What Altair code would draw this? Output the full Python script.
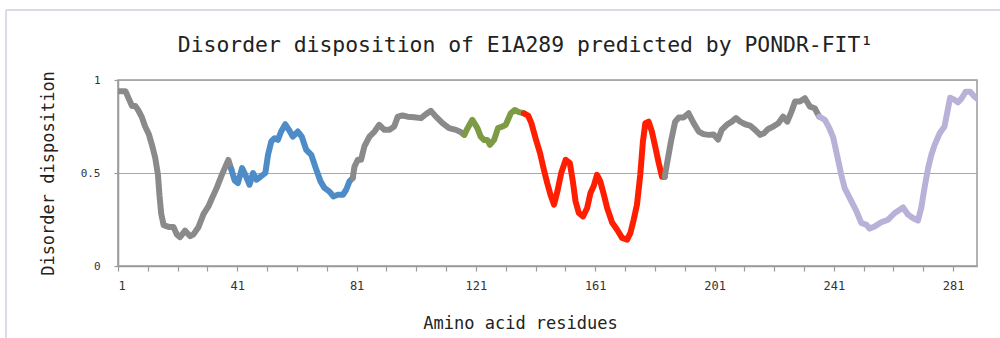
import altair as alt
import pandas as pd

# ---- data ----
residues = [
    1, 3.5, 4.6, 5.7, 6.8, 7.7, 9, 10.1, 11.3, 12.4, 13.5, 14.4, 14.9, 15.5, 16.3, 18, 19.6,
    20.7, 21.8, 23.5, 25.2, 26.3, 28, 29.7, 31.3, 32.4, 34.1, 35.8, 38, 39,
    40.1, 41.2, 42.6, 43.7, 45.1, 46.3, 47.4, 48.8, 50.4, 51.3, 52.4, 53.5, 54.6, 55.7, 57.1,
    58.3, 59.6, 61.3, 62.6, 64.1, 65.8, 67.5, 68.9, 70.2, 71.9, 73.2, 74.7, 76.4, 77.5, 78.6, 79.7,
    80.3, 81.4, 82.5, 83.6, 85.3, 87, 88.6, 90.3, 92, 93.6, 94.8, 96.4, 98.1, 100.3, 102.6,
    104.2, 105.9, 107.6, 109.8, 112, 114.3, 115.9, 117.1,
    118.2, 119.8, 121.5, 122.6, 123.7, 124.8, 125.7, 127.1, 128.4, 129.9, 131, 132.7, 134,
    135.4, 137.1,
    138.5, 139.6, 141, 142.5, 143.8, 144.9, 146, 147.2, 148.3, 149.6, 151.1, 152.5, 153.5,
    154.4, 155.5, 156.9, 158.3, 159.4, 160.5, 161.6, 162.7, 163.9, 165, 166.7, 168.3, 170,
    171.7, 172.8, 173.9, 175, 176.1, 177, 177.8, 178.9, 180, 181.1, 182.3, 183.4, 184.3,
    185, 186.4, 187.8, 189, 190.6, 192.3, 194, 195.7, 197.3, 199, 200.7, 202.2, 203.4, 205.1,
    206.8, 208.2, 209.6, 211.3, 212.9, 214.6, 216.3, 217.6, 219, 220.7, 222.4, 224, 225.4,
    226.8, 228, 229.6, 231.3, 233, 234.6, 236.1,
    238, 239.5, 240.8, 242.3, 243.5, 244.6, 246.3, 248.6, 250.2, 251.9, 253, 254.7, 256.9,
    259.2, 261.4, 263.1, 264.2, 265.9, 267.5, 269.2, 270.3, 271.4, 272.6, 273.7, 274.8, 276.5,
    278.1, 279.3, 280, 281.5, 282.6, 283.7, 285.2, 286.7, 288.2, 289,
]
disorder = [
    0.94, 0.94, 0.90, 0.86, 0.86, 0.84, 0.80, 0.75, 0.71, 0.65, 0.58, 0.49, 0.38, 0.28, 0.22, 0.21, 0.21,
    0.17, 0.155, 0.19, 0.16, 0.17, 0.21, 0.28, 0.32, 0.36, 0.42, 0.49, 0.57, 0.52,
    0.46, 0.446, 0.526, 0.49, 0.437, 0.50, 0.464, 0.48, 0.50, 0.598, 0.67, 0.687, 0.678, 0.723, 0.762,
    0.732, 0.696, 0.723, 0.696, 0.625, 0.598, 0.517, 0.455, 0.42, 0.40, 0.374, 0.383, 0.383, 0.41, 0.455, 0.473,
    0.535, 0.571, 0.571, 0.643, 0.696, 0.723, 0.759, 0.732, 0.732, 0.75, 0.803, 0.809, 0.803, 0.80, 0.795,
    0.816, 0.834, 0.803, 0.768, 0.741, 0.732, 0.72, 0.705,
    0.741, 0.786, 0.741, 0.696, 0.678, 0.678, 0.651, 0.678, 0.741, 0.75, 0.759, 0.821, 0.839,
    0.827, 0.821,
    0.809, 0.768, 0.687, 0.607, 0.517, 0.446, 0.383, 0.33, 0.40, 0.50, 0.571, 0.553, 0.455,
    0.348, 0.285, 0.267, 0.312, 0.392, 0.43, 0.49, 0.455, 0.383, 0.312, 0.232, 0.196, 0.151,
    0.142, 0.178, 0.249, 0.33, 0.49, 0.67, 0.768, 0.776, 0.723, 0.643, 0.553, 0.48, 0.48,
    0.544, 0.67, 0.776, 0.798, 0.798, 0.821, 0.768, 0.723, 0.709, 0.705, 0.707, 0.68, 0.732, 0.759,
    0.776, 0.795, 0.776, 0.762, 0.755, 0.732, 0.705, 0.714, 0.737, 0.75, 0.768, 0.803, 0.776,
    0.83, 0.884, 0.884, 0.902, 0.857, 0.848, 0.803,
    0.786, 0.741, 0.69, 0.58, 0.49, 0.42, 0.366, 0.294, 0.232, 0.222, 0.201, 0.213, 0.235,
    0.249, 0.285, 0.303, 0.315, 0.276, 0.258, 0.244, 0.312, 0.42, 0.526, 0.598, 0.651, 0.714,
    0.75, 0.848, 0.905, 0.893, 0.88, 0.898, 0.937, 0.937, 0.91, 0.90,
]
# coloured stretches: start residue, end residue, colour
segment_starts = [1, 39, 79.7, 117.1, 137.1, 184.3, 236.1]
segment_ends = [39, 79.7, 117.1, 137.1, 184.3, 236.1, 289]
segment_colors = ["#8a8a8a", "#4d8cc7", "#8a8a8a", "#7d9b45", "#ff1e00", "#8a8a8a", "#b9b1d7"]

x_tick_values = list(range(1, 290, 10))
y_tick_values = [0, 0.5, 1]

rows = []
for i, (s, e) in enumerate(zip(segment_starts, segment_ends)):
    for r, v in zip(residues, disorder):
        if s <= r <= e:
            rows.append({"residue": r, "disorder": v, "segment": f"s{i}"})
df = pd.DataFrame(rows)
seg_names = [f"s{i}" for i in range(len(segment_starts))]

MONO = "DejaVu Sans Mono"

line = alt.Chart(df).mark_line(
    strokeWidth=6, strokeCap="round", strokeJoin="round", clip=True
).encode(
    x=alt.X(
        "residue:Q",
        scale=alt.Scale(domain=[1, 289], nice=False, zero=False),
        axis=alt.Axis(
            title="Amino acid residues",
            values=x_tick_values,
            labelExpr="(datum.value - 1) % 40 == 0 ? format(datum.value, 'd') : ''",
            grid=False,
            tickSize=5,
            labelPadding=9,
            labelFontSize=12,
            titleFontSize=17,
            titleFontWeight="normal",
            titleX=402,
            titleY=57,
            titleBaseline="middle",
            titleAlign="center",
        ),
    ),
    y=alt.Y(
        "disorder:Q",
        scale=alt.Scale(domain=[0, 1], nice=False),
        axis=alt.Axis(
            title="Disorder disposition",
            values=y_tick_values,
            labelExpr="datum.value == 0.5 ? '0.5' : format(datum.value, 'd')",
            grid=True,
            gridColor="#a8a8a8",
            gridWidth=1.2,
            tickSize=4,
            labelPadding=14,
            labelFontSize=11,
            titleFontSize=17,
            titleFontWeight="normal",
            titleAngle=270,
            titleX=-70,
            titleY=93,
            titleAlign="center",
            titleBaseline="middle",
        ),
    ),
    color=alt.Color(
        "segment:N",
        scale=alt.Scale(domain=seg_names, range=segment_colors),
        legend=None,
    ),
    detail="segment:N",
)

frame_top = alt.Chart(pd.DataFrame({"k": [0]})).mark_rule(
    color="#cfcfdf", strokeWidth=1.5
).encode(x=alt.value(-112), x2=alt.value(882), y=alt.value(-70))
frame_left = alt.Chart(pd.DataFrame({"k": [0]})).mark_rule(
    color="#cfcfdf", strokeWidth=1.5
).encode(x=alt.value(-112), y=alt.value(-70), y2=alt.value(258))

chart = alt.layer(frame_top, frame_left, line).properties(
    width=859,
    height=186,
    autosize=alt.AutoSizeParams(type="none"),
    padding={"left": 118, "top": 80, "right": 23, "bottom": 72},
    background="white",
    title=alt.TitleParams(
        text="Disorder disposition of E1A289 predicted by PONDR-FIT\u00b9",
        font=MONO,
        fontSize=21.4,
        fontWeight="normal",
        color="#222222",
        anchor="middle",
        frame="group",
        dx=-22,
        offset=-47,
    ),
).configure_view(
    stroke="#9a9a9a", strokeWidth=1.5
).configure_axis(
    labelFont=MONO,
    titleFont=MONO,
    labelColor="#333333",
    titleColor="#222222",
    domainColor="#9a9a9a",
    domainWidth=1.5,
    tickColor="#9a9a9a",
    tickWidth=1.2,
)

chart.save("out.html", embed_options={"renderer": "svg", "actions": False})
